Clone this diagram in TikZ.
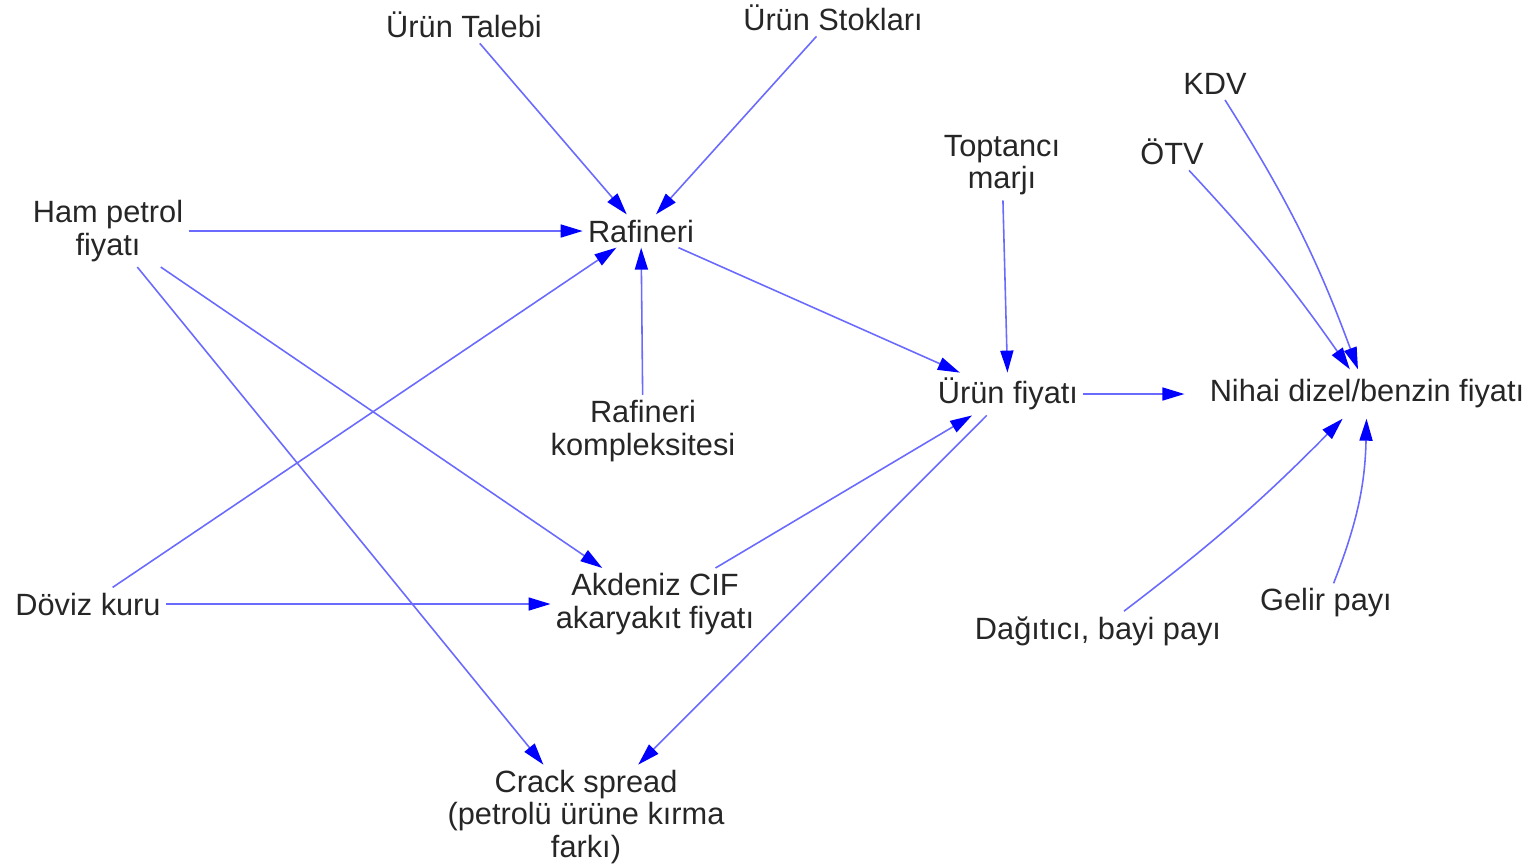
\documentclass[tikz,border=0pt]{standalone}
\usepackage{fontspec}
\setmainfont{Liberation Sans}
\usepackage{tikz}
\usepackage{xcolor}
\usetikzlibrary{arrows.meta}
\definecolor{Ink}{HTML}{262626}
\definecolor{LinkBlue}{HTML}{6A6AFF}
\definecolor{HeadBlue}{HTML}{0000FF}

\begin{document}
\begin{tikzpicture}[
  x=0.02cm,y=-0.02cm,
  font=\fontsize{17.5}{18.6}\selectfont,
  var/.style={text=Ink, align=center, inner sep=0.1cm},
  link/.style={-{Triangle[length=4.4mm,width=2.6mm,color=HeadBlue]}, line width=0.9pt, draw=LinkBlue}
]
  \useasboundingbox (0,0) rectangle (1534,867);

  \node[var] (talep) at (464,25) {Ürün Talebi};
  \node[var] (stok) at (833,18) {Ürün Stokları};
  \node[var] (kdv) at (1215,84) {KDV};
  \node[var] (otv) at (1172,152) {ÖTV};
  \node[var] (toptan) at (1002,165) {Toptancı\\marjı};
  \node[var] (ham) at (108,231) {Ham petrol\\fiyatı};
  \node[var] (raf) at (641,231) {Rafineri};
  \node[var] (kompl) at (643,431) {Rafineri\\kompleksitesi};
  \node[var] (urun) at (1008,394) {Ürün fiyatı};
  \node[var, inner xsep=0.5cm, inner ysep=0.2cm] (nihai) at (1367,394) {Nihai dizel/benzin fiyatı};
  \node[var] (doviz) at (88,604) {Döviz kuru};
  \node[var] (cif) at (655,604) {Akdeniz CIF\\akaryakıt fiyatı};
  \node[var] (bayi) at (1098,631) {Dağıtıcı, bayi payı};
  \node[var] (gelir) at (1326,603) {Gelir payı};
  \node[var] (crack) at (586,817) {Crack spread\\(petrolü ürüne kırma\\farkı)};

  \draw[link] (talep) -- (raf);
  \draw[link] (stok) -- (raf);
  \draw[link] (ham) -- (raf);
  \draw[link] (doviz) -- (raf);
  \draw[link] (kompl) -- (raf);
  \draw[link] (raf) -- (urun);
  \draw[link] (toptan) -- (urun);
  \draw[link] (urun) -- (nihai);
  \draw[link] (otv) to[bend left=4] (nihai);
  \draw[link] (kdv) to[bend left=6] (nihai);
  \draw[link] (bayi) to[bend right=4] (nihai);
  \draw[link] (gelir) to[bend right=10] (nihai);
  \draw[link] (ham) -- (cif);
  \draw[link] (ham) -- (crack);
  \draw[link] (doviz) -- (cif);
  \draw[link] (cif) -- (urun);
  \draw[link] (urun) -- (crack);
\end{tikzpicture}
\end{document}
